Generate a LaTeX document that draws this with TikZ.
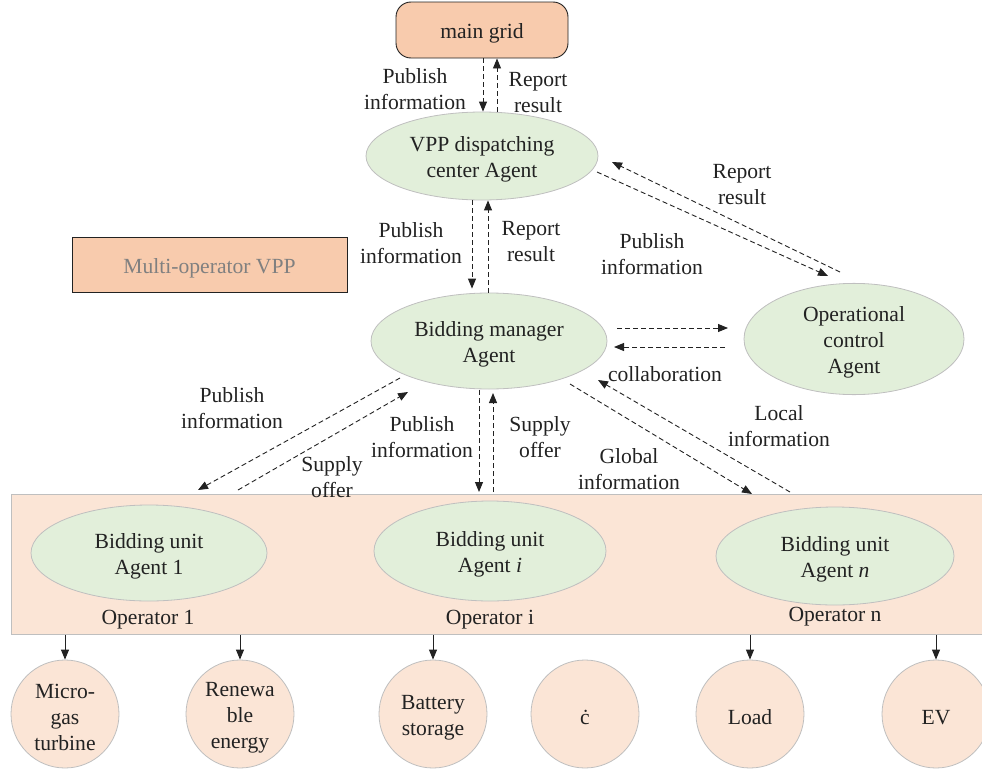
\documentclass[tikz,border=0pt]{standalone}
\usepackage{fontspec}
\setmainfont{Liberation Serif}
\usetikzlibrary{arrows.meta,shapes.geometric}
\definecolor{peach}{HTML}{F8CBAD}
\definecolor{lpeach}{HTML}{FBE5D6}
\definecolor{lgreen}{HTML}{E2EFDA}
\definecolor{edgegray}{HTML}{BFBFBF}
\definecolor{ink}{HTML}{222222}
\newcommand{\tstrut}{\rule{0pt}{22pt}}
\begin{document}
\begin{tikzpicture}[x=1pt,y=-1pt,font=\fontsize{21.6}{26}\selectfont,text=ink,
 agent/.style={ellipse,draw=edgegray,fill=lgreen,line width=0.8pt,inner sep=0pt,align=center},
 dev/.style={circle,draw=edgegray,fill=lpeach,line width=0.8pt,minimum size=108pt,inner sep=0pt,align=center},
 darr/.style={draw=ink,dash pattern=on 5pt off 3pt,line width=0.9pt,-{Triangle[length=10pt,width=8pt]}},
 sarr/.style={draw=ink,line width=0.9pt,-{Triangle[length=10pt,width=8pt]}},
 lbl/.style={align=center,inner sep=0pt}]
\useasboundingbox (0,0) rectangle (982,771);
% operators band
\node[draw=edgegray,fill=lpeach,line width=0.8pt,minimum width=985pt,minimum height=140pt,anchor=north west,inner sep=0pt] (ops) at (11,494) {};
% top nodes
\node[draw=ink,fill=peach,rounded corners=15pt,minimum width=172pt,minimum height=56pt,line width=0.9pt,align=center] (grid) at (482,30) {\tstrut main grid};
\node[draw=ink,fill=peach,minimum width=275pt,minimum height=55pt,line width=0.8pt,text=gray,align=center] (multi) at (209.5,264.5) {\tstrut Multi-operator VPP};
\node[agent,minimum width=232pt,minimum height=88pt] (vpp) at (482,156) {\tstrut VPP dispatching\\center Agent};
\node[agent,minimum width=236pt,minimum height=96pt] (bm) at (489,341) {\tstrut Bidding manager\\Agent};
\node[agent,minimum width=220pt,minimum height=96pt] (oc) at (854,339) {\tstrut Operational\\control\\Agent};
% bidding units
\node[agent,minimum width=236pt,minimum height=96pt] (bu1) at (149,553) {\tstrut Bidding unit\\Agent 1};
\node[agent,minimum width=232pt,minimum height=100pt] (bui) at (490,551) {\tstrut Bidding unit\\Agent \textit{i}};
\node[agent,minimum width=238pt,minimum height=98pt] (bun) at (835,556) {\tstrut Bidding unit\\Agent \textit{n}};
\node[lbl] (op1) at (148,616) {\tstrut Operator 1};
\node[lbl] (opi) at (490,616) {\tstrut Operator i};
\node[lbl] (opn) at (835,613) {\tstrut Operator n};
% devices
\node[dev] (c1) at (65,714) {\tstrut Micro-\\gas\\turbine};
\node[dev] (c2) at (240,714) {\tstrut Renewa\\ble\\energy};
\node[dev] (c3) at (433,714) {\tstrut Battery\\storage};
\node[dev] (c4) at (585,714) {\tstrut ċ};
\node[dev] (c5) at (750,714) {\tstrut Load};
\node[dev] (c6) at (936,714) {\tstrut EV};
\foreach \c in {c1,c2,c3,c5,c6}
  \draw[sarr] (\c.north |- ops.south) -- (\c.north);
% grid <-> vpp
\draw[darr] ([xshift=1pt]grid.south) -- ([xshift=1pt]vpp.north);
\draw[darr] ([xshift=15pt]vpp.north) -- ([xshift=15pt]grid.south);
\node[lbl] (l1) at (415,86) {\tstrut Publish\\information};
\node[lbl] (l2) at (538,89) {\tstrut Report\\result};
% vpp <-> bm
\draw[darr,shorten >=4pt] ([xshift=-10pt]vpp.south) -- ([xshift=-17pt]bm.north);
\draw[darr] ([xshift=-1pt]bm.north) -- ([xshift=6pt]vpp.south);
\node[lbl] (l3) at (411,240) {\tstrut Publish\\information};
\node[lbl] (l4) at (531,238) {\tstrut Report\\result};
% vpp <-> oc
\coordinate (p1) at (597,172); \coordinate (p2) at (828,276);
\coordinate (r1) at (840,272); \coordinate (r2) at (612,162);
\draw[darr] (p1) -- (p2);
\draw[darr] (r1) -- (r2);
\node[lbl] (l5) at (742,181) {\tstrut Report\\result};
\node[lbl] (l6) at (652,251) {\tstrut Publish\\information};
% bm <-> oc
\coordinate (k1) at (617,328); \coordinate (k2) at (728,328);
\coordinate (k3) at (725,347); \coordinate (k4) at (614,347);
\draw[darr] (k1) -- (k2);
\draw[darr] (k3) -- (k4);
\node[lbl] (l7) at (665,371) {\tstrut collaboration};
% bm <-> bu1
\coordinate (b1) at (400,378); \coordinate (b2) at (198,490);
\coordinate (b3) at (238,490); \coordinate (b4) at (408,392);
\draw[darr] (b1) -- (b2);
\draw[darr] (b3) -- (b4);
\node[lbl] (l8) at (232,405) {\tstrut Publish\\information};
\node[lbl] (l9) at (332,474) {\tstrut Supply\\offer};
% bm <-> bui
\coordinate (m1) at (479,390); \coordinate (m2) at (479,492);
\coordinate (m3) at (493,492); \coordinate (m4) at (493,393);
\draw[darr] (m1) -- (m2);
\draw[darr] (m3) -- (m4);
\node[lbl] (l10) at (422,434) {\tstrut Publish\\information};
\node[lbl] (l11) at (540,434) {\tstrut Supply\\offer};
% bm <-> bun
\coordinate (g1) at (570,384); \coordinate (g2) at (752,494);
\coordinate (g3) at (790,492); \coordinate (g4) at (598,380);
\draw[darr] (g1) -- (g2);
\draw[darr] (g3) -- (g4);
\node[lbl] (l12) at (629,466) {\tstrut Global\\information};
\node[lbl] (l13) at (779,423) {\tstrut Local\\information};
\end{tikzpicture}
\end{document}
